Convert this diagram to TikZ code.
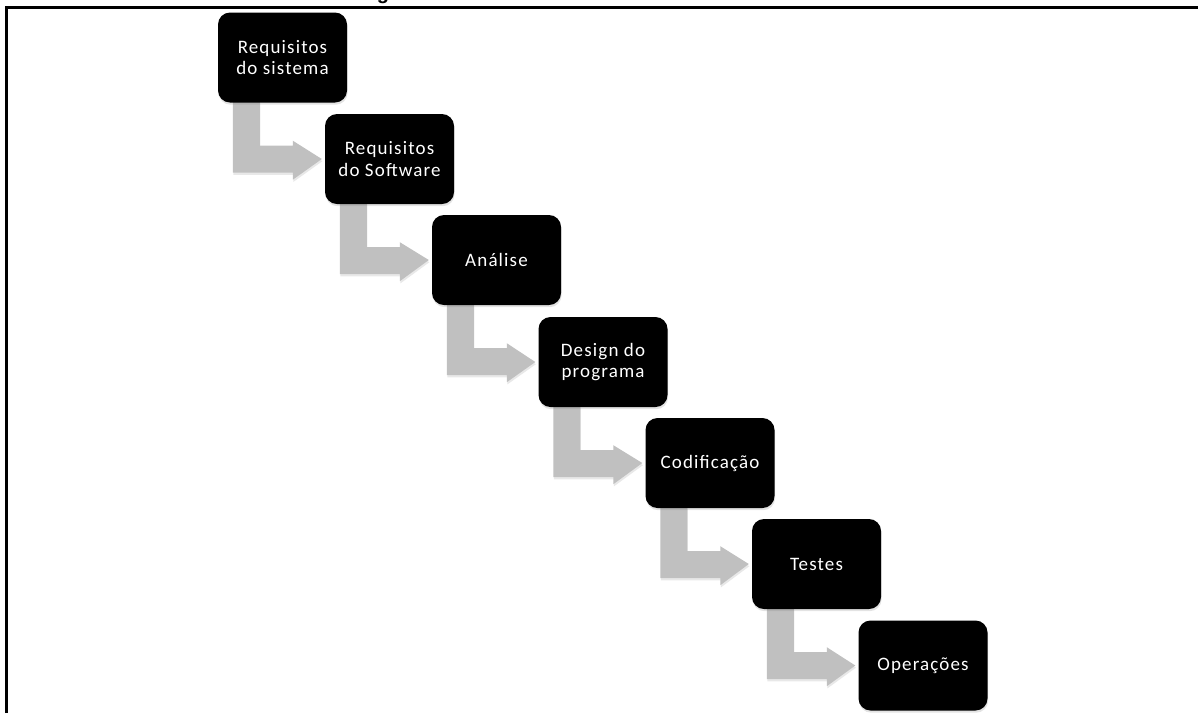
\documentclass[tikz,border=0pt]{standalone}
\usepackage{fontspec}
\setmainfont{Carlito}[LetterSpace=6]
\newfontfamily\titlefont{Liberation Sans}
\usetikzlibrary{calc,shadows,backgrounds}

\definecolor{arrowgray}{HTML}{C0C0C0}

\tikzset{
  stepbox/.style={
    fill=black, text=white, rounded corners=12pt,
    minimum width=129pt, minimum height=90pt,
    inner sep=2pt, align=center,
    font=\fontsize{19}{21.7}\selectfont,
    drop shadow={opacity=0.22, shadow xshift=0.6pt, shadow yshift=-2.2pt}
  },
  flowarrow/.style={
    fill=arrowgray,
    drop shadow={opacity=0.18, shadow xshift=0.6pt, shadow yshift=-2.2pt}
  },
  frameline/.style={line width=3pt, black}
}

\begin{document}
\begin{tikzpicture}[x=1pt, y=-1pt]
  \useasboundingbox (0,0) rectangle (1198,713);

  % cut-off title above the frame
  \node[anchor=base, inner sep=0pt, font=\titlefont\bfseries\fontsize{20}{24}\selectfont]
    (title) at (383,-1) {g};

  % frame
  \draw[frameline] (6.5,713) -- (6.5,7.5) -- (1198,7.5);

  % process steps
  \node[stepbox] (b1) at (282.5,57.5) {Requisitos\\do sistema};
  \node[stepbox] (b2) at (389.5,159)  {Requisitos\\do Software};
  \node[stepbox] (b3) at (496.5,260)  {Análise};
  \node[stepbox] (b4) at (603,362)    {Design do\\programa};
  \node[stepbox] (b5) at (710,463)    {Codificação};
  \node[stepbox] (b6) at (816.5,564)  {Testes};
  \node[stepbox] (b7) at (923,665.5)  {Operações};

  % bent arrows between consecutive steps, behind the boxes
  \begin{scope}[on background layer]
    \foreach \a/\b in {b1/b2,b2/b3,b3/b4,b4/b5,b5/b6,b6/b7} {
      \fill[flowarrow]
        ($(\a.south west)+(15,-2)$) --
        ($(\a.south west)+(15,70)$) --
        ($(\a.south west)+(75,70)$) --
        ($(\a.south west)+(75,77)$) --
        ($(\b.west)+(-3,0)$) --
        ($(\a.south west)+(75,38)$) --
        ($(\a.south west)+(75,43)$) --
        ($(\a.south west)+(42,43)$) --
        ($(\a.south west)+(42,-2)$) -- cycle;
    }
  \end{scope}
\end{tikzpicture}
\end{document}
